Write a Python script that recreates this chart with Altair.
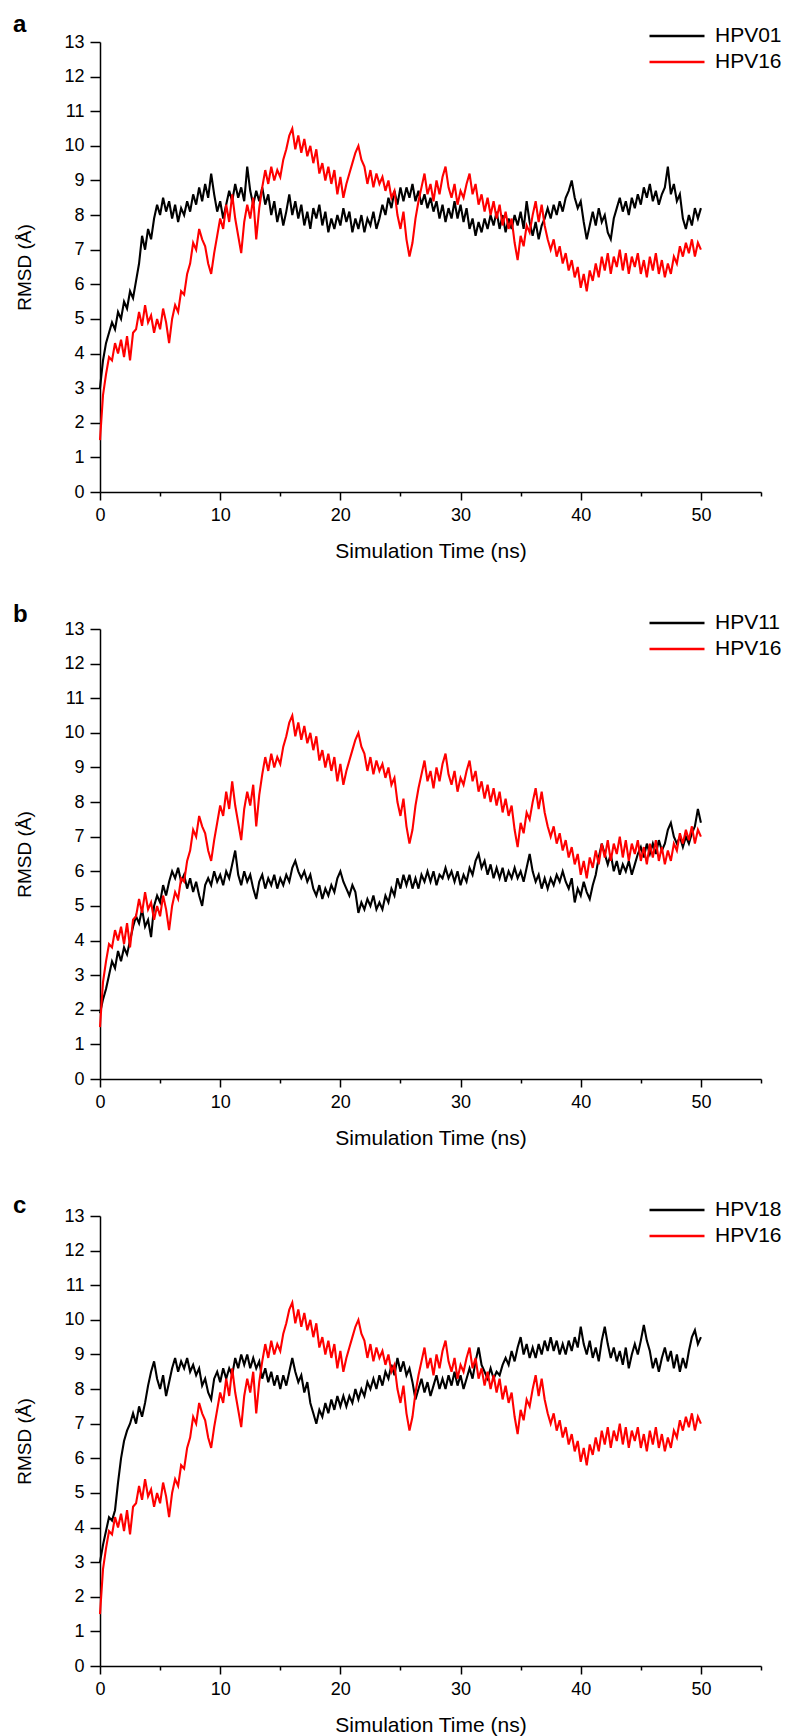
import altair as alt
import pandas as pd

HPV16 = [1.5, 2.8, 3.4, 3.9, 3.8, 4.3, 4.0, 4.4, 3.9, 4.5, 3.8, 4.6, 4.7, 5.2, 4.8, 5.4,
         4.9, 5.1, 4.6, 5.0, 4.7, 5.3, 4.9, 4.3, 5.0, 5.4, 5.2, 5.8, 5.7, 6.3, 6.6, 7.2,
         7.0, 7.6, 7.3, 7.1, 6.6, 6.3, 6.9, 7.4, 7.9, 7.6, 8.3, 7.8, 8.6, 7.9, 7.4, 6.9,
         7.8, 8.3, 7.9, 8.5, 7.3, 8.2, 8.8, 9.3, 8.9, 9.4, 9.0, 9.3, 9.1, 9.6, 9.9, 10.3,
         10.5, 9.9, 10.3, 9.8, 10.2, 9.7, 10.0, 9.5, 9.9, 9.2, 9.5, 9.0, 9.4, 8.9, 9.3, 8.6,
         9.1, 8.5, 8.9, 9.2, 9.5, 9.8, 10.0, 9.6, 9.4, 8.9, 9.3, 8.8, 9.2, 8.9, 9.1, 8.7,
         9.0, 8.5, 8.7, 8.0, 7.6, 8.1, 7.3, 6.8, 7.2, 7.9, 8.4, 8.8, 9.2, 8.6, 8.9, 8.4,
         9.0, 8.6, 9.1, 9.4, 8.8, 8.5, 8.9, 8.3, 8.7, 8.5, 8.9, 9.2, 8.6, 8.9, 8.3, 8.6,
         8.1, 8.5, 8.0, 8.4, 7.9, 8.3, 7.7, 8.1, 7.6, 7.9, 7.2, 6.7, 7.4, 7.1, 7.7, 7.5,
         8.0, 8.4, 7.8, 8.3, 7.7, 7.3, 7.0, 7.3, 6.8, 7.1, 6.6, 6.9, 6.4, 6.7, 6.2, 6.5,
         5.9, 6.3, 5.8, 6.4, 6.1, 6.6, 6.2, 6.8, 6.4, 6.9, 6.3, 6.8, 6.5, 7.0, 6.4, 6.9,
         6.3, 6.8, 6.5, 6.9, 6.3, 6.7, 6.2, 6.8, 6.4, 6.9, 6.3, 6.7, 6.2, 6.6, 6.3, 6.8,
         6.6, 7.1, 6.8, 7.2, 6.9, 7.3, 6.8, 7.2, 7.0]

HPV01 = [3.0, 3.8, 4.3, 4.6, 4.9, 4.7, 5.2, 5.0, 5.5, 5.3, 5.8, 5.6, 6.1, 6.6, 7.4, 7.0,
         7.6, 7.3, 7.9, 8.3, 8.0, 8.5, 8.1, 8.4, 7.9, 8.3, 7.8, 8.2, 8.0, 8.4, 8.1, 8.6,
         8.3, 8.8, 8.4, 8.9, 8.5, 9.2, 8.6, 8.1, 8.4, 7.9, 8.3, 8.7, 8.4, 8.9, 8.5, 8.8,
         8.4, 9.4, 8.7, 8.3, 8.7, 8.4, 8.8, 8.3, 8.6, 8.0, 8.4, 7.8, 8.2, 7.7, 8.1, 8.6,
         8.0, 8.4, 7.9, 8.3, 7.7, 8.1, 7.6, 8.2, 7.9, 8.3, 7.7, 8.1, 7.5, 7.9, 7.6, 8.0,
         7.7, 8.2, 7.8, 8.1, 7.5, 7.9, 7.6, 8.0, 7.5, 7.9, 7.7, 8.1, 7.6, 7.9, 8.3, 8.0,
         8.5, 8.2, 8.7, 8.3, 8.8, 8.4, 8.8, 8.5, 8.9, 8.4, 8.7, 8.3, 8.6, 8.2, 8.5, 8.1,
         8.4, 7.9, 8.3, 7.8, 8.2, 7.9, 8.4, 7.9, 8.3, 7.8, 8.2, 7.6, 7.9, 7.4, 7.8, 7.5,
         7.9, 7.6, 8.0, 7.7, 8.1, 7.6, 8.0, 7.5, 7.9, 7.6, 8.0, 7.7, 8.1, 7.6, 8.4, 7.8,
         7.4, 7.8, 7.3, 7.7, 7.9, 8.2, 7.9, 8.3, 8.0, 8.4, 8.1, 8.5, 8.7, 9.0, 8.5, 8.2,
         8.4, 7.8, 7.3, 7.7, 8.1, 7.7, 8.2, 7.8, 8.0, 7.5, 7.3, 7.9, 8.2, 8.5, 8.1, 8.4,
         8.0, 8.5, 8.2, 8.6, 8.3, 8.8, 8.5, 8.9, 8.4, 8.7, 8.3, 8.6, 8.8, 9.4, 8.6, 8.9,
         8.4, 8.6, 7.9, 7.6, 8.0, 7.7, 8.2, 7.9, 8.2]

HPV11 = [1.9, 2.3, 2.6, 3.0, 3.4, 3.2, 3.7, 3.4, 3.8, 3.6, 4.0, 4.4, 4.7, 4.5, 4.9, 4.4,
         4.6, 4.1, 5.0, 5.3, 5.1, 5.6, 5.3, 5.7, 6.0, 5.8, 6.1, 5.7, 5.9, 5.5, 5.8, 5.4,
         5.7, 5.3, 5.0, 5.6, 5.8, 5.6, 6.0, 5.7, 5.9, 5.6, 6.0, 5.8, 6.2, 6.6, 5.9, 5.6,
         6.0, 5.7, 5.9, 5.5, 5.2, 5.7, 5.9, 5.5, 5.8, 5.6, 5.9, 5.5, 5.8, 5.6, 5.9, 5.7,
         6.1, 6.3, 6.0, 5.8, 6.0, 5.7, 5.9, 5.5, 5.3, 5.6, 5.2, 5.5, 5.3, 5.6, 5.4, 5.8,
         6.0, 5.7, 5.5, 5.3, 5.6, 5.4, 4.8, 5.1, 4.9, 5.2, 5.0, 5.3, 4.9, 5.1, 4.9, 5.3,
         5.1, 5.5, 5.3, 5.8, 5.5, 5.9, 5.6, 5.9, 5.5, 5.8, 5.5, 5.9, 5.7, 6.0, 5.7, 6.0,
         5.6, 5.9, 5.8, 6.1, 5.8, 6.0, 5.7, 6.0, 5.6, 5.9, 5.7, 6.1, 5.9, 6.3, 6.5, 6.1,
         6.3, 5.9, 6.2, 5.8, 6.1, 5.8, 6.1, 5.7, 6.0, 5.8, 6.1, 5.8, 6.0, 5.7, 6.1, 6.5,
         6.0, 5.7, 5.9, 5.5, 5.8, 5.5, 5.8, 5.6, 5.9, 5.7, 6.0, 5.7, 5.5, 5.8, 5.1, 5.5,
         5.3, 5.7, 5.4, 5.2, 5.6, 5.9, 6.4, 6.8, 6.5, 6.2, 6.5, 6.0, 6.3, 5.9, 6.2, 6.0,
         6.3, 5.9, 6.2, 6.5, 6.7, 6.4, 6.8, 6.5, 6.8, 6.5, 6.9, 6.6, 6.8, 7.2, 7.4, 7.0,
         6.8, 7.0, 6.7, 7.0, 6.8, 7.1, 7.3, 7.8, 7.4]

HPV18 = [3.0, 3.5, 3.9, 4.3, 4.2, 4.5, 5.3, 6.0, 6.5, 6.8, 7.0, 7.3, 7.0, 7.5, 7.2, 7.6,
         8.1, 8.5, 8.8, 8.3, 8.0, 8.4, 7.8, 8.2, 8.6, 8.9, 8.5, 8.8, 8.6, 8.9, 8.5, 8.7,
         8.4, 8.6, 8.1, 8.3, 7.9, 7.7, 8.3, 8.5, 8.2, 8.6, 8.3, 8.6, 8.4, 8.9, 8.6, 9.0,
         8.7, 9.0, 8.6, 8.9, 8.6, 8.8, 8.3, 8.6, 8.2, 8.5, 8.1, 8.4, 8.0, 8.4, 8.1, 8.5,
         8.9, 8.5, 8.2, 8.4, 7.9, 8.2, 7.6, 7.3, 7.0, 7.4, 7.2, 7.6, 7.3, 7.7, 7.4, 7.8,
         7.5, 7.8, 7.5, 7.8, 7.6, 8.0, 7.7, 8.0, 7.8, 8.2, 8.0, 8.3, 8.0, 8.4, 8.1, 8.5,
         8.3, 8.7, 8.4, 8.9, 8.5, 8.8, 8.4, 8.6, 8.2, 7.7, 8.0, 8.3, 7.9, 8.2, 7.8, 8.1,
         8.4, 8.0, 8.3, 8.0, 8.4, 8.1, 8.5, 8.1, 8.4, 8.0, 8.3, 8.6, 8.3, 8.8, 9.2, 8.7,
         8.5, 8.3, 8.6, 8.3, 8.5, 8.4, 8.7, 8.9, 8.7, 9.1, 8.8, 9.2, 9.5, 9.0, 9.3, 8.9,
         9.2, 8.9, 9.3, 9.0, 9.4, 9.1, 9.5, 9.1, 9.4, 9.0, 9.3, 9.0, 9.4, 9.1, 9.5, 9.2,
         9.8, 9.3, 9.0, 9.4, 8.9, 9.2, 8.8, 9.4, 9.8, 9.3, 8.9, 9.2, 8.8, 9.1, 8.7, 9.2,
         8.6, 9.0, 9.3, 9.0, 9.4, 9.85, 9.4, 9.1, 8.6, 8.9, 8.5, 8.9, 9.2, 8.8, 9.1, 8.6,
         9.0, 8.5, 8.9, 8.6, 9.1, 9.5, 9.7, 9.3, 9.5]

TIME_STEP_NS = 0.25
TIME = [round(i * TIME_STEP_NS, 2) for i in range(len(HPV16))]

X_TICKS = [0, 5, 10, 15, 20, 25, 30, 35, 40, 45, 50, 55]
Y_TICKS = [i / 2 for i in range(27)]

# (panel letter, comparison series, its values, title baseline shift)
PANELS = [("a", "HPV01", HPV01, 0), ("b", "HPV11", HPV11, 3), ("c", "HPV18", HPV18, 7)]

FONT = "Liberation Sans"
W, H = 661, 450


def panel(letter, name, values, shift):
    n = len(TIME)
    df = pd.DataFrame({
        "t": TIME + TIME,
        "v": values + HPV16,
        "series": [name] * n + ["HPV16"] * n,
    })
    x = alt.X("t:Q", title="Simulation Time (ns)",
              scale=alt.Scale(domain=[0, 55], nice=False, zero=False),
              axis=alt.Axis(values=X_TICKS, format="d",
                            labelExpr="datum.value % 10 === 0 ? datum.label : ''",
                            tickSize={"condition": {"test": "datum.value % 10 === 0", "value": 8}, "value": 4},
                            labelPadding=6, titlePadding=16, labelFlush=False, labelOverlap=False))
    y = alt.Y("v:Q", title="RMSD (Å)",
              scale=alt.Scale(domain=[0, 13], nice=False, zero=False),
              axis=alt.Axis(values=Y_TICKS, format="d",
                            labelExpr="datum.value % 1 === 0 ? datum.label : ''",
                            tickSize={"condition": {"test": "datum.value % 1 === 0", "value": 10}, "value": 5},
                            labelPadding=6, titlePadding=29, labelFlush=False, labelOverlap=False,
                            titleFontSize=19))
    color = alt.Color("series:N",
                      scale=alt.Scale(domain=[name, "HPV16"], range=["#000000", "#ff0000"]),
                      legend=alt.Legend(title=None, orient="none", legendX=548, legendY=-16,
                                        symbolType="stroke", symbolSize=3025, symbolStrokeWidth=2.5,
                                        clipHeight=20,
                                        labelFontSize=21, labelFont=FONT, labelColor="#000000",
                                        labelOffset=9, rowPadding=5, padding=0, direction="vertical"))
    black = alt.Chart().transform_filter(alt.datum.series == name).mark_line(strokeWidth=2.1).encode(
        x=x, y=y, color=color)
    red = alt.Chart().transform_filter(alt.datum.series == "HPV16").mark_line(strokeWidth=2.1).encode(
        x=x, y=y, color=color)
    return alt.layer(black, red, data=df).properties(
        width=W, height=H,
        title=alt.TitleParams(letter, anchor="start", frame="group", dx=-87, fontSize=24,
                              fontWeight="bold", font=FONT, baseline="alphabetic",
                              offset=-30 - shift, color="#000000"))


chart = alt.vconcat(*[panel(*p) for p in PANELS], spacing=137, bounds="flush").resolve_scale(
    color="independent"
).resolve_legend(color="independent").properties(
    padding={"left": 13, "top": 13, "right": 5, "bottom": 5}
).configure_view(stroke=None).configure_axis(
    grid=False, domainColor="#000000", domainWidth=1.5, tickColor="#000000", tickWidth=1.5,
    labelFont=FONT, labelFontSize=18, labelColor="#000000",
    titleFont=FONT, titleFontSize=21, titleFontWeight="normal", titleColor="#000000"
)

chart.save("out.html", embed_options={"renderer": "svg", "actions": False})
